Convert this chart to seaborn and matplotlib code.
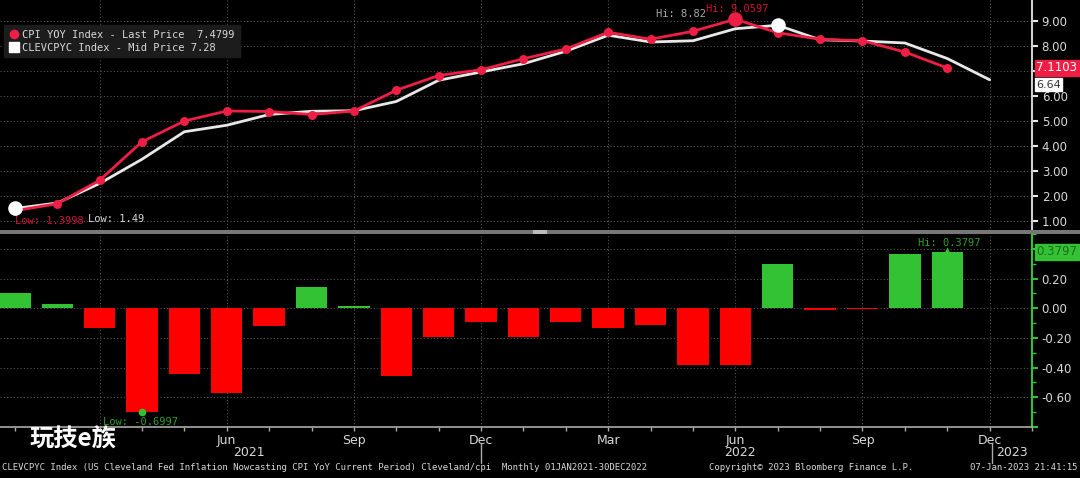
import numpy as np
import pandas as pd
import seaborn as sns
import matplotlib.pyplot as plt
import matplotlib.ticker as mticker
import matplotlib.transforms as mtrans
from matplotlib.lines import Line2D
from matplotlib.patches import Rectangle

# Data (Jan 2021 - Dec 2022, monthly)
months = pd.date_range("2021-01-01", "2022-12-01", freq="MS")
cpi_yoy = [1.3998, 1.68, 2.62, 4.16, 4.99, 5.39, 5.37, 5.25, 5.39, 6.22, 6.81, 7.04,
           7.4799, 7.87, 8.54, 8.26, 8.58, 9.0597, 8.52, 8.26, 8.20, 7.75, 7.1103]
clev_nowcast = [1.49, 1.71, 2.49, 3.46, 4.56, 4.82, 5.25, 5.38, 5.40, 5.77, 6.62, 6.95,
                7.28, 7.78, 8.42, 8.15, 8.20, 8.68, 8.82, 8.24, 8.19, 8.11, 7.49, 6.64]
nowcast_minus_cpi = [0.10, 0.03, -0.13, -0.6997, -0.44, -0.57, -0.12, 0.14, 0.015, -0.455, -0.195, -0.09,
                     -0.195, -0.09, -0.13, -0.115, -0.38, -0.38, 0.30, -0.015, -0.005, 0.365, 0.3797]
year_labels = ["2021", "2022", "2023"]

idx = np.arange(len(months))
RED = "#EE1E44"
WHITE = "#E8E8E8"
GREEN = "#33C233"
BARRED = "#FF0000"
GRID = "#555555"
TXT = "#d8d8d8"
MONO = "DejaVu Sans Mono"

sns.set_theme(style="dark", rc={"axes.facecolor": "black", "figure.facecolor": "black"})
plt.rcParams["font.family"] = ["DejaVu Sans"]
plt.rcParams["axes.unicode_minus"] = False

fig = plt.figure(figsize=(10.8, 4.78), dpi=100)
W, H = 1080, 478
ax1 = fig.add_axes([0, 1 - 231 / H, 1032 / W, 231 / H])
ax2 = fig.add_axes([0, 1 - 427 / H, 1032 / W, (427 - 234) / H])

# ---- top panel: lines
sns.lineplot(x=idx, y=clev_nowcast, color=WHITE, lw=2, ax=ax1)
sns.lineplot(x=idx[:len(cpi_yoy)], y=cpi_yoy, color=RED, lw=2, marker="o",
             markersize=6.5, markeredgewidth=0, ax=ax1)
hi_c = int(np.argmax(cpi_yoy))
hi_w = int(np.argmax(clev_nowcast))
lo_w = int(np.argmin(clev_nowcast))
sns.scatterplot(x=[hi_c], y=[cpi_yoy[hi_c]], color=RED, s=110, linewidth=0, ax=ax1, zorder=5)
sns.scatterplot(x=[hi_w, lo_w], y=[clev_nowcast[hi_w], clev_nowcast[lo_w]], color="white",
                s=110, linewidth=0, ax=ax1, zorder=6)

ax1.text(0, 1.0, f"Low: {min(cpi_yoy):.4f}", color="#D01235", family=MONO, fontsize=7.5, va="center")
ax1.text(1.72, 1.07, f"Low: {min(clev_nowcast):.2f}", color=TXT, family=MONO, fontsize=7.5, va="center")
ax1.text(15.14, 9.26, f"Hi: {max(clev_nowcast):.2f}", color="#aaaaaa", family=MONO, fontsize=7.5, va="center")
ax1.text(16.3, 9.45, f"Hi: {max(cpi_yoy):.4f}", color="#D01235", family=MONO, fontsize=7.5, va="center")

ax1.set_xlim(-0.35, 24.0)
ax1.set_ylim(0.59, 9.83)
top_ticks = np.arange(1, 10)
ax1.set_yticks(top_ticks)
# 7.00 is covered by the last-price box in the source
ax1.set_yticklabels(["" if v == 7 else f"{v:.2f}" for v in top_ticks])
ax1.yaxis.tick_right()
ax1.set_xticks(idx[2::3])
ax1.tick_params(axis="x", length=0, labelbottom=False)
ax1.tick_params(axis="y", colors=WHITE, labelcolor=TXT, length=4, width=1.5, labelsize=8.5, pad=3)
for s in ["top", "left", "bottom"]:
    ax1.spines[s].set_visible(False)
ax1.spines["right"].set_color("#cccccc")
ax1.spines["right"].set_linewidth(1.5)
ax1.grid(True, color=GRID, linestyle=(0, (1, 2)), linewidth=0.8)
ax1.set_xlabel("")
ax1.set_ylabel("")

leg = ax1.legend(
    handles=[Line2D([], [], marker="o", color=RED, ls="none", ms=6),
             Line2D([], [], marker="s", color="white", ls="none", ms=7)],
    labels=[f"CPI YOY Index - Last Price  {cpi_yoy[12]:.4f}",
            f"CLEVCPYC Index - Mid Price {clev_nowcast[12]:.2f}"],
    loc="upper left", bbox_to_anchor=(0.004, 0.892), borderaxespad=0, frameon=True,
    facecolor="#1c1c1c", edgecolor="#1c1c1c", framealpha=1, fancybox=False,
    prop={"family": MONO, "size": 7.5}, labelcolor=TXT,
    handletextpad=0.3, borderpad=0.45, labelspacing=0.3, handlelength=1)

tr1 = mtrans.blended_transform_factory(ax1.transAxes, ax1.transData)
ax1.text(1.004, clev_nowcast[-1] - 0.2, f"{clev_nowcast[-1]:.2f}", transform=tr1, color="#333333",
         fontsize=8, va="center", ha="left", clip_on=False, zorder=9,
         bbox=dict(boxstyle="square,pad=0.12", fc="white", ec="white"))
ax1.text(1.004, cpi_yoy[-1], f"{cpi_yoy[-1]:.4f}", transform=tr1, color="white", fontsize=8.5,
         va="center", ha="left", clip_on=False, zorder=10,
         bbox=dict(boxstyle="square,pad=0.12", fc=RED, ec=RED))

# ---- bottom panel: bars of nowcast minus CPI
bar_x = idx[:len(nowcast_minus_cpi)]
sign = ["pos" if v >= 0 else "neg" for v in nowcast_minus_cpi]
sns.barplot(x=bar_x, y=nowcast_minus_cpi, hue=sign, palette={"pos": GREEN, "neg": BARRED},
            native_scale=True, dodge=False, width=0.74, saturation=1, errorbar=None,
            legend=False, linewidth=0, edgecolor="none", ax=ax2, zorder=3)
lo_b = int(np.argmin(nowcast_minus_cpi))
hi_b = int(np.argmax(nowcast_minus_cpi))
sns.scatterplot(x=[lo_b], y=[nowcast_minus_cpi[lo_b]], color=GREEN, s=30, linewidth=0, ax=ax2, zorder=5)
sns.scatterplot(x=[hi_b], y=[nowcast_minus_cpi[hi_b] + 0.01], color=GREEN, s=20, marker="^",
                linewidth=0, ax=ax2, zorder=5)
ax2.text(2.08, -0.765, f"Low: {min(nowcast_minus_cpi):.4f}", color="#2E9E2E", family=MONO,
         fontsize=7.5, va="center")
ax2.text(21.3, 0.44, f"Hi: {max(nowcast_minus_cpi):.4f}", color="#2E9E2E", family=MONO,
         fontsize=7.5, va="center")

ax2.set_xlim(-0.35, 24.0)
ax2.set_ylim(-0.8, 0.5)
yt = [-0.8, -0.6, -0.4, -0.2, 0.0, 0.2, 0.4]
ax2.set_yticks(yt)
ax2.set_yticklabels(["" if abs(v) > 0.7 or v > 0.3 else f"{v:.2f}" for v in yt])
ax2.yaxis.set_minor_locator(mticker.MultipleLocator(0.1))
ax2.yaxis.tick_right()
qtr = idx[2::3]
qtr_labels = list(months[2::3].strftime("%b"))
qtr_labels[0] = ""  # Mar 2021 sits under the watermark in the source image
ax2.set_xticks(qtr)
ax2.set_xticklabels(qtr_labels)
ax2.xaxis.set_minor_locator(mticker.MultipleLocator(1))
ax2.tick_params(axis="x", which="both", bottom=True, colors="#aaaaaa", labelcolor=TXT,
                length=3, width=1, labelsize=9, pad=2)
ax2.tick_params(axis="y", which="major", right=True, colors=GREEN, labelcolor=TXT,
                length=4, width=1.5, labelsize=8.5, pad=3)
ax2.tick_params(axis="y", which="minor", right=True, colors=GREEN, length=3, width=1)
ax2.spines["top"].set_visible(False)
ax2.spines["left"].set_visible(False)
ax2.spines["bottom"].set_color("#aaaaaa")
ax2.spines["bottom"].set_linewidth(1.2)
ax2.spines["right"].set_color(GREEN)
ax2.spines["right"].set_linewidth(1.5)
ax2.grid(True, which="major", color=GRID, linestyle=(0, (1, 2)), linewidth=0.8, zorder=0)
ax2.set_axisbelow(True)
ax2.set_xlabel("")
ax2.set_ylabel("")

tr2 = mtrans.blended_transform_factory(ax2.transAxes, ax2.transData)
ax2.text(1.004, nowcast_minus_cpi[-1], f"{nowcast_minus_cpi[-1]:.4f}", transform=tr2,
         color="#1d6e1d", fontsize=8.5, va="center", ha="left", clip_on=False, zorder=10,
         bbox=dict(boxstyle="square,pad=0.12", fc=GREEN, ec=GREEN))

# panel separator
fig.add_artist(Rectangle((0, 1 - 233.5 / H), 1, 3 / H, transform=fig.transFigure,
                         fc="#777777", ec="none"))
fig.add_artist(Rectangle((533 / W, 1 - 233.5 / H), 14 / W, 3 / H, transform=fig.transFigure,
                         fc="#bbbbbb", ec="none"))

# year labels and separators
for lab, px in zip(year_labels, [249, 740, 1012]):
    fig.text(px / W, 1 - 453 / H, lab, color=TXT, fontsize=9, ha="center", va="center")
for px in [481, 992]:
    fig.add_artist(Line2D([px / W, px / W], [1 - 443 / H, 1 - 463 / H], transform=fig.transFigure,
                          color="#aaaaaa", lw=1))

# watermark
fig.text(30 / W, 1 - 440 / H, "玩技e族", color="white", fontsize=17.5, fontweight="bold",
         family=["Noto Sans CJK SC", "DejaVu Sans"], ha="left", va="center")

# footer
fig.text(2 / W, 1 - 467 / H,
         "CLEVCPYC Index (US Cleveland Fed Inflation Nowcasting CPI YoY Current Period) "
         "Cleveland/cpi  Monthly 01JAN2021-30DEC2022",
         color=TXT, family=MONO, fontsize=6.5, ha="left", va="center")
fig.text(709 / W, 1 - 467 / H, "Copyright© 2023 Bloomberg Finance L.P.", color=TXT,
         family=MONO, fontsize=6.5, ha="left", va="center")
fig.text(1077 / W, 1 - 467 / H, "07-Jan-2023 21:41:15", color=TXT, family=MONO,
         fontsize=6.5, ha="right", va="center")

plt.savefig("out.png", dpi=100, facecolor="black")
